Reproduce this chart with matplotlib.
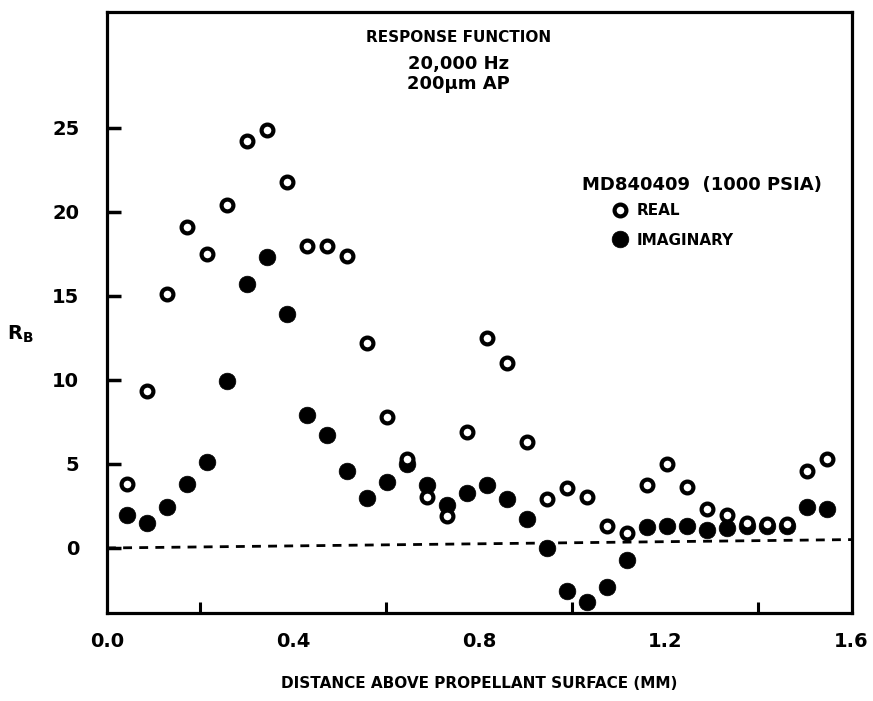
import numpy as np
import matplotlib
matplotlib.use('Agg')
import matplotlib.pyplot as plt
from matplotlib.lines import Line2D

plt.rcParams['font.family'] = ['DejaVu Sans']
plt.rcParams['font.weight'] = 'bold'
plt.rcParams['axes.labelweight'] = 'bold'

# distance above propellant surface (mm)
distance = [0.043, 0.086, 0.129, 0.172, 0.215, 0.258, 0.301, 0.344, 0.387,
            0.430, 0.473, 0.516, 0.559, 0.602, 0.645, 0.688, 0.731, 0.774,
            0.817, 0.860, 0.903, 0.946, 0.989, 1.032, 1.075, 1.118, 1.161,
            1.204, 1.247, 1.290, 1.333, 1.376, 1.419, 1.462, 1.505, 1.548]

rb_real = [3.8, 9.35, 15.1, 19.1, 17.5, 20.4, 24.2, 24.9, 21.8,
           18.0, 18.0, 17.4, 12.2, 7.8, 5.3, 3.05, 1.9, 6.9,
           12.5, 11.0, 6.3, 2.9, 3.55, 3.05, 1.3, 0.87, 3.75,
           5.0, 3.6, 2.3, 1.95, 1.5, 1.45, 1.45, 4.6, 5.3]

rb_imag = [1.95, 1.5, 2.45, 3.8, 5.1, 9.95, 15.7, 17.3, 13.9,
           7.9, 6.75, 4.6, 3.0, 3.95, 5.0, 3.75, 2.55, 3.3,
           3.75, 2.9, 1.75, 0.0, -2.55, -3.2, -2.3, -0.7, 1.25,
           1.3, 1.3, 1.1, 1.2, 1.3, 1.3, 1.3, 2.45, 2.3]

# hand drawn reference line (slightly tilted zero line)
ref_x = [0.0, 1.6]
ref_y = [0.0, 0.5]

fig = plt.figure(figsize=(8.73, 7.01), dpi=100)
ax = fig.add_axes([0.1226, 0.1255, 0.976 - 0.1226, 0.983 - 0.1255])

ax.plot(ref_x, ref_y, color='black', lw=2.0, dashes=(3.2, 2.6), zorder=1)

open_style = dict(linestyle='none', marker='o', ms=8.5, mew=3.0,
                  mfc='white', mec='black')
fill_style = dict(linestyle='none', marker='o', ms=12, mew=0.5,
                  mfc='black', mec='black')

ax.plot(distance, rb_real, zorder=3, **open_style)
ax.plot(distance, rb_imag, zorder=2, **fill_style)

ax.set_xlim(0, 1.602)
ax.set_ylim(-3.87, 31.9)

ax.set_xticks([0.0, 0.4, 0.8, 1.2, 1.6])
ax.set_xticklabels(['0.0', '0.4', '0.8', '1.2', '1.6'])
ax.set_xticks([0.2, 0.4, 0.6, 0.8, 1.0, 1.2, 1.4], minor=True)
ax.tick_params(axis='x', which='major', length=0, pad=14, labelsize=14)
ax.tick_params(axis='x', which='minor', direction='in', length=8, width=2.2)

ax.set_yticks([0, 5, 10, 15, 20, 25])
ax.tick_params(axis='y', which='major', direction='in', length=10, width=2.5,
               pad=20, labelsize=14)

for s in ax.spines.values():
    s.set_linewidth(2.3)

ax.set_ylabel('R$_\\mathregular{B}$', rotation=0, fontsize=14)
ax.yaxis.set_label_coords(-0.117, 0.446)
ax.set_xlabel('DISTANCE ABOVE PROPELLANT SURFACE (MM)', fontsize=11)
ax.xaxis.set_label_coords(0.5, -0.105)

ax.text(0.472, 0.957, 'RESPONSE FUNCTION', transform=ax.transAxes,
        ha='center', va='center', fontsize=11)
ax.text(0.472, 0.914, '20,000 Hz', transform=ax.transAxes,
        ha='center', va='center', fontsize=13)
ax.text(0.472, 0.880, '200\u03bcm AP', transform=ax.transAxes,
        ha='center', va='center', fontsize=13)

ax.text(0.6376, 0.712, 'MD840409  (1000 PSIA)', transform=ax.transAxes,
        ha='left', va='center', fontsize=13)

handles = [
    Line2D([], [], label='REAL', **open_style),
    Line2D([], [], label='IMAGINARY', **fill_style),
]
ax.legend(handles=handles, loc='upper left', bbox_to_anchor=(0.678, 0.682),
          frameon=False, borderpad=0, borderaxespad=0, handlelength=1.0,
          handletextpad=0.6, labelspacing=0.95, fontsize=11)

fig.savefig('out.png', dpi=100)
